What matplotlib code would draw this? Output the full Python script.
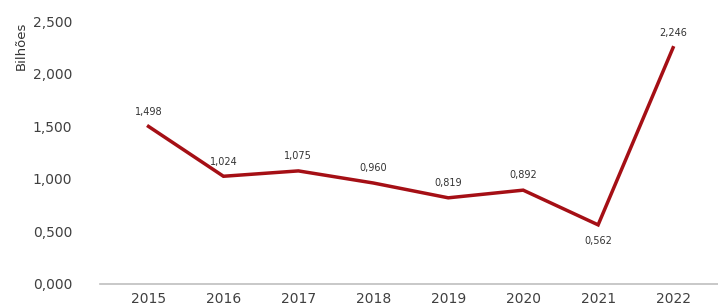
import matplotlib
matplotlib.use("Agg")
import matplotlib.pyplot as plt

years = ["2015", "2016", "2017", "2018", "2019", "2020", "2021", "2022"]
values = [1.498, 1.024, 1.075, 0.960, 0.819, 0.892, 0.562, 2.246]
labels = ["1,498", "1,024", "1,075", "0,960", "0,819", "0,892", "0,562", "2,246"]
yticks = [0.0, 0.5, 1.0, 1.5, 2.0, 2.5]
ytick_labels = ["0,000", "0,500", "1,000", "1,500", "2,000", "2,500"]

fig = plt.figure(figsize=(7.18, 3.05), dpi=100)
ax = fig.add_axes([0.139, 0.069, 0.861, 0.862])
x = list(range(len(years)))
ax.plot(x, values, color="#A50F15", lw=2.5, solid_joinstyle="miter")
for i, (v, t) in enumerate(zip(values, labels)):
    if i == 6:
        ax.annotate(t, (i, v), xytext=(0, -8), textcoords="offset points",
                    ha="center", va="top", fontsize=7, color="#333333")
    else:
        ax.annotate(t, (i, v), xytext=(0, 7), textcoords="offset points",
                    ha="center", va="bottom", fontsize=7, color="#333333")

ax.set_xlim(-0.65, 7.6)
ax.set_ylim(0, 2.5)
ax.set_xticks(x)
ax.set_xticklabels(years)
ax.set_yticks(yticks)
ax.set_yticklabels(ytick_labels)
ax.tick_params(axis="both", length=0, labelsize=10, colors="#404040")
ax.tick_params(axis="y", pad=20)
ax.tick_params(axis="x", pad=6)
for s in ["top", "right", "left"]:
    ax.spines[s].set_visible(False)
ax.spines["bottom"].set_color("#BFBFBF")
ax.spines["bottom"].set_linewidth(1.2)
fig.text(0.03, 0.85, "Bilhões", rotation=90, ha="center", va="center",
         fontsize=9.5, color="#333333")
fig.savefig("out.png", dpi=100)
